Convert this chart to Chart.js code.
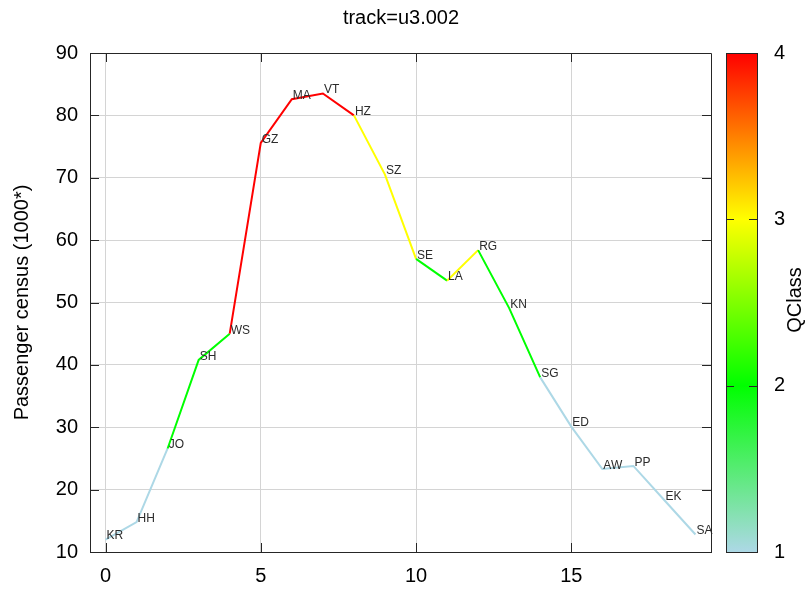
<!DOCTYPE html>
<html>
<head>
<meta charset="utf-8">
<script src="https://cdn.jsdelivr.net/npm/chart.js@4.4.1/dist/chart.umd.min.js"></script>
<style>
  html, body { margin: 0; padding: 0; background: #ffffff; }
  #wrap { width: 808px; height: 589px; }
</style>
</head>
<body>
<div id="wrap"><canvas id="chart" width="808" height="589"></canvas></div>
<script>
// Stations along track u3.002
const stations = ['KR', 'HH', 'JO', 'SH', 'WS', 'GZ', 'MA', 'VT', 'HZ', 'SZ',
                  'SE', 'LA', 'RG', 'KN', 'SG', 'ED', 'AW', 'PP', 'EK', 'SA'];
const stationIndex = [0, 1, 2, 3, 4, 5, 6, 7, 8, 9, 10, 11, 12, 13, 14, 15, 16, 17, 18, 19];
// Passenger census in thousands
const census = [12.0, 14.8, 26.6, 40.8, 45.0, 75.6, 82.6, 83.5, 80.0, 70.5,
                57.0, 53.5, 58.4, 49.1, 38.0, 30.1, 23.3, 23.8, 18.3, 12.8];
// Quality class of the leg that starts at each station
const qclass = [1, 1, 2, 2, 4, 4, 4, 4, 3, 3, 2, 3, 2, 2, 1, 1, 1, 1, 1, 1];

const xTicks = [0, 5, 10, 15];
const yTicks = [10, 20, 30, 40, 50, 60, 70, 80, 90];
const classTicks = [1, 2, 3, 4];
const classStops = [
  { v: 1, rgb: [173, 216, 230] },
  { v: 2, rgb: [0, 255, 0] },
  { v: 3, rgb: [255, 255, 0] },
  { v: 4, rgb: [255, 0, 0] }
];

const FONT = '"Liberation Sans", Arial, Helvetica, sans-serif';
const AXIS_COLOR = '#262626';
const GRID_COLOR = '#d4d4d4';

function classColor(v) {
  for (let i = 0; i < classStops.length - 1; i++) {
    const a = classStops[i], b = classStops[i + 1];
    if (v <= b.v) {
      const t = Math.max(0, (v - a.v) / (b.v - a.v));
      const c = a.rgb.map((k, j) => Math.round(k + (b.rgb[j] - k) * t));
      return `rgb(${c[0]},${c[1]},${c[2]})`;
    }
  }
  const last = classStops[classStops.length - 1].rgb;
  return `rgb(${last[0]},${last[1]},${last[2]})`;
}

const points = stationIndex.map((x, i) => ({ x: x, y: census[i] }));

// Frame, mirrored inward ticks, station labels, title and the colour bar
const decorations = {
  id: 'decorations',
  beforeDraw(chart) {
    const ctx = chart.ctx;
    ctx.save();
    ctx.fillStyle = '#ffffff';
    ctx.fillRect(0, 0, chart.width, chart.height);
    ctx.restore();
  },
  afterDatasetsDraw(chart) {
    const ctx = chart.ctx;
    const area = chart.chartArea;
    const xs = chart.scales.x, ys = chart.scales.y;
    const tick = 9;

    ctx.save();
    // station labels
    ctx.font = '12px ' + FONT;
    ctx.fillStyle = '#2b2b2b';
    ctx.textAlign = 'left';
    ctx.textBaseline = 'middle';
    const meta = chart.getDatasetMeta(0);
    meta.data.forEach((pt, i) => {
      ctx.fillText(stations[i], pt.x + 1, pt.y - 3.5);
    });

    // frame
    ctx.strokeStyle = AXIS_COLOR;
    ctx.lineWidth = 1;
    ctx.beginPath();
    ctx.rect(Math.round(area.left) + 0.5, Math.round(area.top) + 0.5,
             Math.round(area.right - area.left), Math.round(area.bottom - area.top));
    ctx.stroke();

    // inward ticks on all four sides
    ctx.beginPath();
    xTicks.forEach(v => {
      const px = Math.round(xs.getPixelForValue(v)) + 0.5;
      ctx.moveTo(px, area.bottom); ctx.lineTo(px, area.bottom - tick);
      ctx.moveTo(px, area.top); ctx.lineTo(px, area.top + tick);
    });
    yTicks.forEach(v => {
      const py = Math.round(ys.getPixelForValue(v)) + 0.5;
      ctx.moveTo(area.left, py); ctx.lineTo(area.left + tick, py);
      ctx.moveTo(area.right, py); ctx.lineTo(area.right - tick, py);
    });
    ctx.stroke();

    // title
    ctx.fillStyle = '#000000';
    ctx.font = '20px ' + FONT;
    ctx.textAlign = 'center';
    ctx.textBaseline = 'middle';
    ctx.fillText('track=u3.002', 401, 18);

    // colour bar
    const cbLeft = 726, cbRight = 757;
    const cbTop = area.top, cbBottom = area.bottom;
    const cMin = classTicks[0], cMax = classTicks[classTicks.length - 1];
    const cy = v => cbBottom - (v - cMin) / (cMax - cMin) * (cbBottom - cbTop);
    const grad = ctx.createLinearGradient(0, cbBottom, 0, cbTop);
    classStops.forEach(s => {
      grad.addColorStop((s.v - cMin) / (cMax - cMin), classColor(s.v));
    });
    ctx.fillStyle = grad;
    ctx.fillRect(cbLeft, cbTop, cbRight - cbLeft, cbBottom - cbTop);
    ctx.strokeStyle = AXIS_COLOR;
    ctx.strokeRect(cbLeft + 0.5, Math.round(cbTop) + 0.5, cbRight - cbLeft, Math.round(cbBottom - cbTop));
    ctx.beginPath();
    classTicks.forEach(v => {
      const py = Math.round(cy(v)) + 0.5;
      ctx.moveTo(cbLeft, py); ctx.lineTo(cbLeft + 8, py);
      ctx.moveTo(cbRight, py); ctx.lineTo(cbRight - 8, py);
    });
    ctx.stroke();

    ctx.fillStyle = '#000000';
    ctx.font = '20px ' + FONT;
    ctx.textAlign = 'left';
    ctx.textBaseline = 'middle';
    classTicks.forEach(v => ctx.fillText(String(v), 774, cy(v)));

    ctx.save();
    ctx.translate(795, 300);
    ctx.rotate(-Math.PI / 2);
    ctx.textAlign = 'center';
    ctx.fillText('QClass', 0, 0);
    ctx.restore();

    ctx.restore();
  }
};

new Chart(document.getElementById('chart'), {
  type: 'line',
  data: {
    datasets: [{
      label: 'Passenger census',
      data: points,
      borderWidth: 2,
      pointRadius: 0,
      pointHoverRadius: 0,
      tension: 0,
      fill: false,
      borderColor: classColor(1),
      segment: {
        borderColor: c => classColor(qclass[c.p0DataIndex])
      }
    }]
  },
  options: {
    responsive: false,
    animation: false,
    devicePixelRatio: 1,
    parsing: true,
    layout: { padding: { top: 53, right: 97, bottom: 0, left: 0 } },
    plugins: {
      legend: { display: false },
      title: { display: false },
      tooltip: { enabled: false }
    },
    scales: {
      x: {
        type: 'linear',
        min: -0.5,
        max: 19.5,
        afterBuildTicks: s => { s.ticks = xTicks.map(v => ({ value: v })); },
        afterFit: s => { s.height = 37; },
        grid: { color: GRID_COLOR, drawTicks: false, lineWidth: 1 },
        border: { display: true, color: AXIS_COLOR },
        ticks: {
          color: '#000000',
          font: { family: FONT, size: 20 },
          padding: 12,
          maxRotation: 0
        }
      },
      y: {
        type: 'linear',
        min: 10,
        max: 90,
        afterBuildTicks: s => { s.ticks = yTicks.map(v => ({ value: v })); },
        afterFit: s => { s.width = 90; },
        grid: { color: GRID_COLOR, drawTicks: false, lineWidth: 1 },
        border: { display: true, color: AXIS_COLOR },
        title: {
          display: true,
          text: 'Passenger census (1000*)',
          color: '#000000',
          font: { family: FONT, size: 20 },
          padding: { top: 10, bottom: 0 }
        },
        ticks: {
          color: '#000000',
          font: { family: FONT, size: 20 },
          padding: 12
        }
      }
    }
  },
  plugins: [decorations]
});
</script>
</body>
</html>
